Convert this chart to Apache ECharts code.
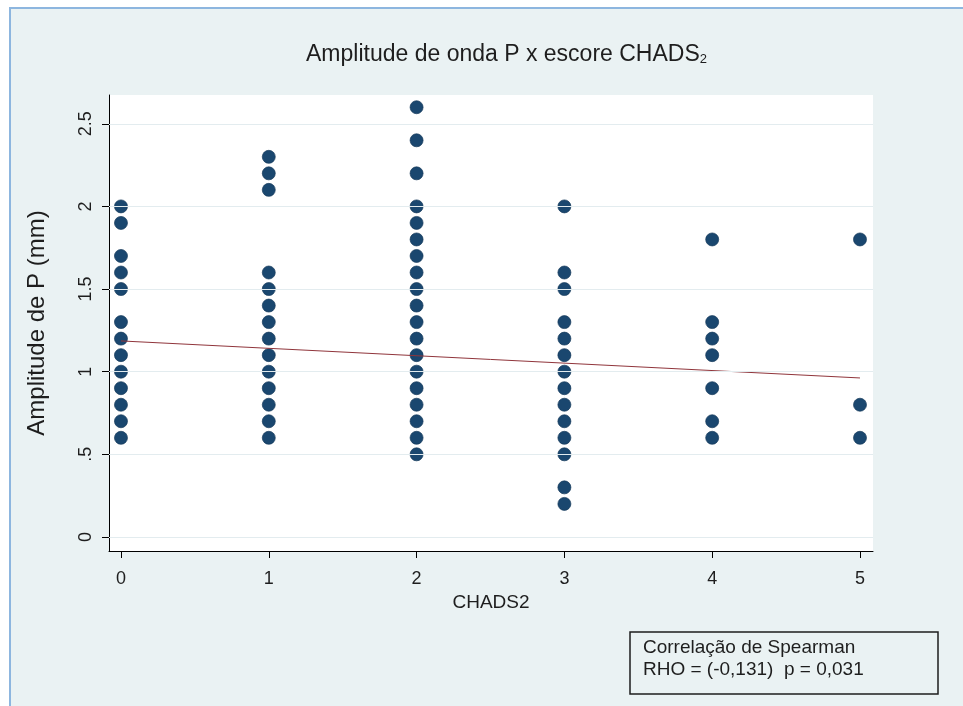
<!DOCTYPE html>
<html>
<head>
<meta charset="utf-8">
<script src="https://cdn.jsdelivr.net/npm/echarts@6/dist/echarts.min.js"></script>
<style>
html,body{margin:0;padding:0;background:#fff;}
#chart{width:963px;height:706px;}
</style>
</head>
<body>
<div id="chart"></div>
<script>
// ---- data ----
const chadsScores = [0, 1, 2, 3, 4, 5];
const ampScore0 = [2.0, 1.9, 1.7, 1.6, 1.5, 1.3, 1.2, 1.1, 1.0, 0.9, 0.8, 0.7, 0.6];
const ampScore1 = [2.3, 2.2, 2.1, 1.6, 1.5, 1.4, 1.3, 1.2, 1.1, 1.0, 0.9, 0.8, 0.7, 0.6];
const ampScore2 = [2.6, 2.4, 2.2, 2.0, 1.9, 1.8, 1.7, 1.6, 1.5, 1.4, 1.3, 1.2, 1.1, 1.0, 0.9, 0.8, 0.7, 0.6, 0.5];
const ampScore3 = [2.0, 1.6, 1.5, 1.3, 1.2, 1.1, 1.0, 0.9, 0.8, 0.7, 0.6, 0.5, 0.3, 0.2];
const ampScore4 = [1.8, 1.3, 1.2, 1.1, 0.9, 0.7, 0.6];
const ampScore5 = [1.8, 0.8, 0.6];
const fitX = [0, 5];
const fitY = [1.186, 0.962];
const xTickValues = [0, 1, 2, 3, 4, 5];
const yTickValues = [0, 0.5, 1, 1.5, 2, 2.5];
const titleText = 'Amplitude de onda P x escore CHADS';
const titleSub = '2';
const xName = 'CHADS2';
const yName = 'Amplitude de P (mm)';
const noteLines = ['Correlação de Spearman', 'RHO = (-0,131)  p = 0,031'];

// ---- build ----
const columns = [ampScore0, ampScore1, ampScore2, ampScore3, ampScore4, ampScore5];
const points = [];
columns.forEach((col, i) => col.forEach(v => points.push([chadsScores[i], v])));
const fitData = fitX.map((x, i) => [x, fitY[i]]);

const FONT = "'Liberation Sans', Arial, sans-serif";
const BG = '#eaf2f3';
const TXT = '#1e1e1e';

const chart = echarts.init(document.getElementById('chart'), null, {renderer: 'canvas'});
chart.setOption({
  backgroundColor: '#ffffff',
  animation: false,
  graphic: [
    {type: 'rect', z: -10, shape: {x: 9, y: 7, width: 954, height: 699}, style: {fill: BG}},
    {type: 'rect', z: -9, shape: {x: 9, y: 7, width: 954, height: 2}, style: {fill: '#8db6df'}},
    {type: 'rect', z: -9, shape: {x: 9, y: 7, width: 2, height: 699}, style: {fill: '#8db6df'}},
    {type: 'rect', z: 10, shape: {x: 630, y: 632, width: 308, height: 62},
      style: {fill: 'transparent', stroke: TXT, lineWidth: 1.5}},
    {type: 'text', z: 11, left: 643, top: 637,
      style: {text: noteLines.join('\n'), font: "19px " + FONT, fill: TXT, lineHeight: 22}}
  ],
  title: {
    text: '{a|' + titleText + '}{b|' + titleSub + '}',
    left: 301, top: 33,
    textStyle: {
      rich: {
        a: {fontFamily: FONT, fontSize: 23, fontWeight: 'normal', color: TXT, verticalAlign: 'bottom', lineHeight: 28},
        b: {fontFamily: FONT, fontSize: 13, fontWeight: 'normal', color: TXT, verticalAlign: 'bottom', lineHeight: 22}
      }
    }
  },
  grid: {
    left: 109, top: 95, right: 90, bottom: 155,
    show: true, backgroundColor: '#ffffff', borderWidth: 0
  },
  xAxis: {
    type: 'value', min: -0.081, max: 5.088,
    name: xName, nameLocation: 'middle', nameGap: 40,
    nameTextStyle: {fontFamily: FONT, fontSize: 19, color: TXT},
    axisLine: {show: true, onZero: false, lineStyle: {color: '#000', width: 1}},
    axisTick: {show: true, length: 7, customValues: xTickValues, lineStyle: {color: '#000'}},
    axisLabel: {customValues: xTickValues, margin: 19, fontFamily: FONT, fontSize: 18, color: TXT},
    splitLine: {show: false}
  },
  yAxis: {
    type: 'value', min: -0.085, max: 2.674,
    name: yName, nameLocation: 'middle', nameGap: 60,
    nameTextStyle: {fontFamily: FONT, fontSize: 24, color: TXT},
    axisLine: {show: true, onZero: false, lineStyle: {color: '#000', width: 1}},
    axisTick: {show: true, length: 7, customValues: yTickValues, lineStyle: {color: '#000'}},
    axisLabel: {
      customValues: yTickValues, rotate: 90, margin: 14,
      fontFamily: FONT, fontSize: 18, color: TXT,
      formatter: v => v === 0 ? '0' : (v < 1 ? String(v).replace(/^0/, '') : String(v))
    },
    splitLine: {show: false}
  },
  series: [
    {
      type: 'scatter', data: [], z: 1, silent: true,
      markLine: {
        silent: true, symbol: 'none', label: {show: false},
        lineStyle: {color: '#e3ecef', width: 1, type: 'solid'},
        data: yTickValues.map(v => ({yAxis: v}))
      }
    },
    {
      type: 'scatter', data: points, z: 3, symbolSize: 13,
      itemStyle: {color: '#1a476f', borderColor: '#15395a', borderWidth: 0.7, opacity: 1}
    },
    {
      type: 'line', data: fitData, z: 4, symbol: 'none',
      lineStyle: {color: '#90353b', width: 1}
    }
  ]
});
</script>
</body>
</html>
